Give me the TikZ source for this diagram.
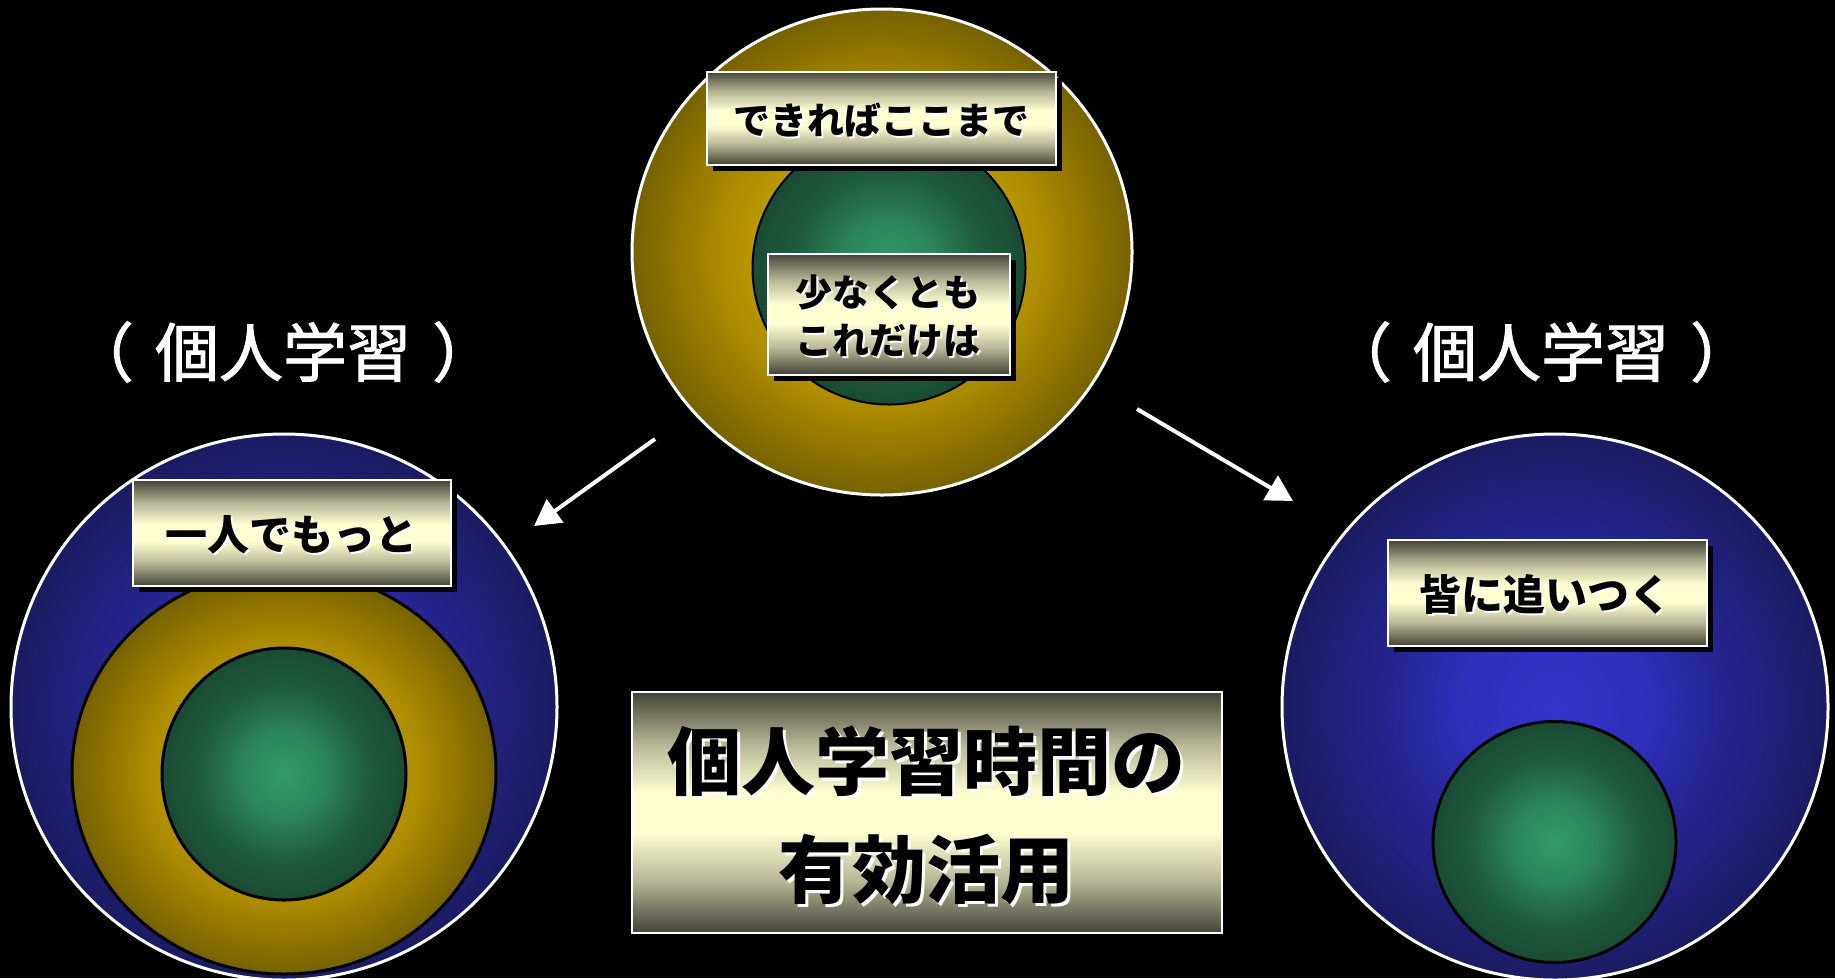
\documentclass[tikz,border=0pt]{standalone}
\usepackage{fontspec}
\newfontfamily\jp{Noto Sans CJK JP}
\newfontfamily\jpmid{Noto Sans CJK JP}[FakeBold=1.5]
\usetikzlibrary{shapes.geometric,arrows.meta,shadows}
\definecolor{gA}{HTML}{C8A200}
\definecolor{gB}{HTML}{BE9B00}
\definecolor{gC}{HTML}{A88800}
\definecolor{gD}{HTML}{766100}
\definecolor{bA}{HTML}{3535CC}
\definecolor{bB}{HTML}{2F2FBC}
\definecolor{bC}{HTML}{24248E}
\definecolor{bD}{HTML}{1B1B62}
\definecolor{nA}{HTML}{33996B}
\definecolor{nB}{HTML}{2C875D}
\definecolor{nC}{HTML}{1F5C40}
\definecolor{nD}{HTML}{1A4A33}
\definecolor{bxD}{HTML}{434336}
\definecolor{bxM}{HTML}{B8B898}
\definecolor{bxL}{HTML}{FFFFD2}
\pgfdeclareradialshading{goldball}{\pgfpoint{0bp}{0bp}}{color(0bp)=(gA); color(12bp)=(gB); color(17bp)=(gC); color(25bp)=(gD); color(50bp)=(gD)}
\pgfdeclareradialshading{blueball}{\pgfpoint{0bp}{0bp}}{color(0bp)=(bA); color(8bp)=(bB); color(16bp)=(bC); color(25bp)=(bD); color(50bp)=(bD)}
\pgfdeclareradialshading{greenball}{\pgfpoint{0bp}{0bp}}{color(0bp)=(nA); color(8bp)=(nB); color(17bp)=(nC); color(25bp)=(nD); color(50bp)=(nD)}
\pgfdeclareverticalshading{boxsh}{100bp}{color(0bp)=(bxD); color(25bp)=(bxD); color(36bp)=(bxM); color(46bp)=(bxL); color(54bp)=(bxL); color(64bp)=(bxM); color(75bp)=(bxD); color(100bp)=(bxD)}
\newcommand\jpsize[2]{\jp\bfseries\fontsize{#1}{#2}\selectfont}
\tikzset{
  outerball/.style={ellipse, inner sep=0pt, draw=white, line width=3pt},
  innerball/.style={ellipse, inner sep=0pt, draw=black, line width=3pt},
  tag/.style={rectangle, inner sep=0pt, draw=white, line width=2pt, shade, shading=boxsh,
    drop shadow={shadow xshift=6pt, shadow yshift=-6pt, fill=black, opacity=1}},
  ink/.style={text=black, align=center, inner sep=0pt},
  glow/.style={text=white, align=center, inner sep=0pt, xshift=#1, yshift=-#1},
  glow/.default=2pt,
  heading/.style={text=white, inner sep=0pt, font=\jpmid\fontsize{64}{72}\selectfont},
  arr/.style={draw=white, line width=4pt, -{Triangle[length=26pt,width=28pt]}}
}
\begin{document}
\begin{tikzpicture}[x=1pt,y=-1pt]
\useasboundingbox (0,0) rectangle (1835,978);
\fill[black] (0,0) rectangle (1835,978);

% top group
\node[outerball, shading=goldball, minimum width=500pt, minimum height=486pt] (topout) at (882,252) {};
\node[innerball, shading=greenball, line width=2pt, minimum width=273pt, minimum height=273pt] (topin) at (889,268) {};
\node[tag, minimum width=349pt, minimum height=93pt] (tagA) at (881.5,118) {};
\node[glow, font=\jpsize{37}{46}] (txtAg) at (881,120) {できればここまで};
\node[ink, font=\jpsize{37}{46}] (txtA) at (881,120) {できればここまで};
\node[tag, minimum width=242pt, minimum height=121pt] (tagB) at (889,314) {};
\node[glow, font=\jpsize{37}{48}] (txtBg) at (888,316) {少なくとも\\これだけは};
\node[ink, font=\jpsize{37}{48}] (txtB) at (888,316) {少なくとも\\これだけは};

% left group
\node[outerball, shading=blueball, minimum width=546pt, minimum height=546pt] (leftout) at (284,707) {};
\node[innerball, shading=goldball, minimum width=424pt, minimum height=404pt] (leftmid) at (284,772) {};
\node[innerball, shading=greenball, minimum width=244pt, minimum height=252pt] (leftin) at (284,774) {};
\node[tag, minimum width=318pt, minimum height=106pt] (tagC) at (291.5,533) {};
\node[glow, font=\jpsize{42}{50}] (txtCg) at (291,535) {一人でもっと};
\node[ink, font=\jpsize{42}{50}] (txtC) at (291,535) {一人でもっと};

% right group
\node[outerball, shading=blueball, minimum width=546pt, minimum height=546pt] (rightout) at (1555,707) {};
\node[innerball, shading=greenball, minimum width=243pt, minimum height=241pt] (rightin) at (1554.5,842) {};
\node[tag, minimum width=319pt, minimum height=106pt] (tagD) at (1547,593) {};
\node[glow, font=\jpsize{42}{50}] (txtDg) at (1545,595) {皆に追いつく};
\node[ink, font=\jpsize{42}{50}] (txtD) at (1545,595) {皆に追いつく};

% central title box
\node[tag, minimum width=590pt, minimum height=241pt] (tagE) at (927,812.5) {};
\node[glow=3pt, font=\jpsize{74}{108}] (txtEg) at (926,815) {個人学習時間の\\有効活用};
\node[ink, font=\jpsize{74}{108}] (txtE) at (926,815) {個人学習時間の\\有効活用};

% headings
\node[heading] (headL) at (283,352) {（\hspace{0.33em}個人学習\hspace{0.33em}）};
\node[heading] (headR) at (1541,352) {（\hspace{0.33em}個人学習\hspace{0.33em}）};

% arrows
\coordinate (a1s) at (655,439);
\coordinate (a1e) at (534,526);
\coordinate (a2s) at (1137,409);
\coordinate (a2e) at (1293,501);
\draw[arr] (a1s) -- (a1e);
\draw[arr] (a2s) -- (a2e);
\end{tikzpicture}
\end{document}
